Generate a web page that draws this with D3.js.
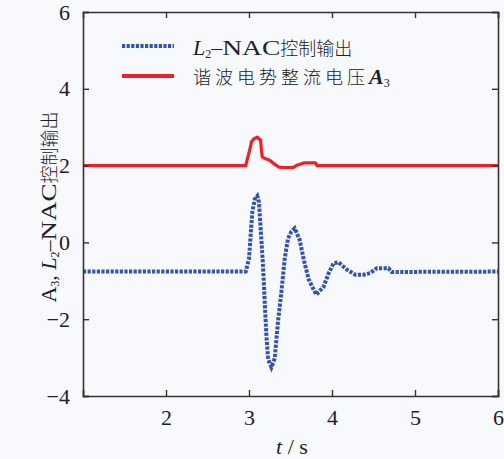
<!DOCTYPE html>
<html>
<head>
<meta charset="utf-8">
<script src="https://cdn.jsdelivr.net/npm/d3@7"></script>
<style>
  body { margin: 0; background: #f8f9fd; }
  svg { display: block; }
  text { font-family: "Liberation Serif", "Noto Sans CJK SC", serif; fill: #222; }
  .cjk { font-family: "Noto Sans CJK SC", sans-serif; font-weight: 300; }
</style>
</head>
<body>
<div id="chart"></div>
<script>
// data
const tBlue = [1.00, 2.96, 3.00, 3.02, 3.04, 3.07, 3.10, 3.12, 3.14, 3.17, 3.19, 3.21, 3.23, 3.27, 3.31, 3.35, 3.39, 3.43, 3.47, 3.51,
               3.55, 3.61, 3.66, 3.72, 3.81, 3.90, 3.96, 4.02, 4.08, 4.18, 4.28, 4.38, 4.46, 4.54, 4.68, 4.72, 6.00];
const vBlue = [-0.76, -0.76, -0.43, 0.18, 0.79, 1.13, 1.21, 1.05, 0.38, -0.65, -1.58, -2.43, -3.04, -3.25, -3.02, -2.05, -1.30, -0.43, 0.10, 0.28,
               0.37, 0.07, -0.45, -0.97, -1.36, -1.15, -0.80, -0.54, -0.52, -0.71, -0.84, -0.84, -0.80, -0.67, -0.67, -0.77, -0.76];

const tRed = [1.00, 2.96, 2.99, 3.01, 3.03, 3.06, 3.10, 3.14, 3.15, 3.16, 3.20, 3.25, 3.30, 3.36, 3.40, 3.53, 3.57, 3.66, 3.80, 3.82, 6.00];
const vRed = [2.00, 2.00, 2.25, 2.42, 2.62, 2.70, 2.74, 2.66, 2.40, 2.22, 2.18, 2.14, 2.05, 1.96, 1.95, 1.95, 2.00, 2.07, 2.07, 2.00, 2.00];

const xTicks = [2, 3, 4, 5, 6];
const yTicks = [-4, -2, 0, 2, 4, 6];

const W = 504, H = 459;
const margin = {top: 12, right: 6, bottom: 63, left: 83};
const width = W - margin.left - margin.right;
const height = H - margin.top - margin.bottom;

const svg = d3.select('#chart').append('svg')
  .attr('width', W)
  .attr('height', H);

const g = svg.append('g')
  .attr('transform', `translate(${margin.left},${margin.top})`);

const x = d3.scaleLinear().domain([1, 6]).range([0, width]);
const y = d3.scaleLinear().domain([-4, 6]).range([height, 0]);

// curves
const blueData = tBlue.map((t, i) => ({t: t, v: vBlue[i]}));
const redData = tRed.map((t, i) => ({t: t, v: vRed[i]}));

const line = d3.line().x(d => x(d.t)).y(d => y(d.v));

g.append('path')
  .datum(redData)
  .attr('fill', 'none')
  .attr('stroke', '#ec2027')
  .attr('stroke-width', 3.2)
  .attr('stroke-linejoin', 'round')
  .attr('d', line);

g.append('path')
  .datum(blueData)
  .attr('fill', 'none')
  .attr('stroke', '#3553a8')
  .attr('stroke-width', 4)
  .attr('stroke-dasharray', '3.2,1.4')
  .attr('d', line);

// axes, ticks pointing inward on every side
const tickLen = 6;
const fmt = d => d < 0 ? '\u2212' + Math.abs(d) : String(d);

const xAxisB = d3.axisBottom(x).tickValues(xTicks).tickSize(-tickLen).tickFormat(fmt).tickPadding(13);
const xAxisT = d3.axisTop(x).tickValues(xTicks).tickSize(-tickLen).tickFormat('');
const yAxisL = d3.axisLeft(y).tickValues(yTicks).tickSize(-tickLen).tickFormat(fmt).tickPadding(13);
const yAxisR = d3.axisRight(y).tickValues(yTicks).tickSize(-tickLen).tickFormat('');

const axes = [
  g.append('g').attr('transform', `translate(0,${height})`).call(xAxisB),
  g.append('g').call(xAxisT),
  g.append('g').call(yAxisL),
  g.append('g').attr('transform', `translate(${width},0)`).call(yAxisR)
];
axes.forEach(a => {
  a.select('.domain').attr('stroke', '#3a302e').attr('stroke-width', 1.6);
  a.selectAll('.tick line').attr('stroke', '#3a302e').attr('stroke-width', 1.4);
  a.selectAll('.tick text')
    .style('font-family', '"Liberation Serif", serif')
    .style('font-size', '22px')
    .attr('fill', '#222');
});

// legend
const legend = g.append('g');
legend.append('line')
  .attr('x1', 122 - margin.left).attr('x2', 174 - margin.left)
  .attr('y1', 46 - margin.top).attr('y2', 46 - margin.top)
  .attr('stroke', '#3553a8').attr('stroke-width', 4)
  .attr('stroke-dasharray', '3.2,1.4');
legend.append('line')
  .attr('x1', 122 - margin.left).attr('x2', 174 - margin.left)
  .attr('y1', 76 - margin.top).attr('y2', 76 - margin.top)
  .attr('stroke', '#ec2027').attr('stroke-width', 4);

const t1 = legend.append('text')
  .attr('x', 193 - margin.left).attr('y', 55 - margin.top)
  .style('font-size', '22px');
t1.append('tspan').text('L').style('font-style', 'italic');
t1.append('tspan').text('2').style('font-size', '12px').attr('dy', 3);
t1.append('tspan').text('\u2013').attr('dy', -3);
t1.append('tspan').text('NAC').attr('textLength', 58).attr('lengthAdjust', 'spacingAndGlyphs');
t1.append('tspan').text('控制输出').attr('class', 'cjk').style('font-size', '18px');

const t2 = legend.append('text')
  .attr('x', 193 - margin.left).attr('y', 84 - margin.top)
  .style('font-size', '22px');
t2.append('tspan').text('谐波电势整流电压').attr('class', 'cjk')
  .style('font-size', '18px').style('letter-spacing', '4px');
t2.append('tspan').text('A').style('font-style', 'italic').style('font-weight', 'bold');
t2.append('tspan').text('3').style('font-size', '12px').attr('dy', 3);

// axis titles
const yl = svg.append('text')
  .attr('transform', 'translate(56,207) rotate(-90)')
  .attr('text-anchor', 'middle')
  .style('font-size', '22px');
yl.append('tspan').text('A');
yl.append('tspan').text('3').style('font-size', '12px').attr('dy', 3);
yl.append('tspan').text(', ').attr('dy', -3);
yl.append('tspan').text('L').style('font-style', 'italic');
yl.append('tspan').text('2').style('font-size', '12px').attr('dy', 3);
yl.append('tspan').text('\u2013').attr('dy', -3);
yl.append('tspan').text('NAC').attr('textLength', 57).attr('lengthAdjust', 'spacingAndGlyphs');
yl.append('tspan').text('控制输出').attr('class', 'cjk').style('font-size', '18px');

const xl = svg.append('text')
  .attr('x', 292).attr('y', 454)
  .attr('text-anchor', 'middle')
  .style('font-size', '22px');
xl.append('tspan').text('t').style('font-style', 'italic');
xl.append('tspan').text(' / s');
</script>
</body>
</html>
